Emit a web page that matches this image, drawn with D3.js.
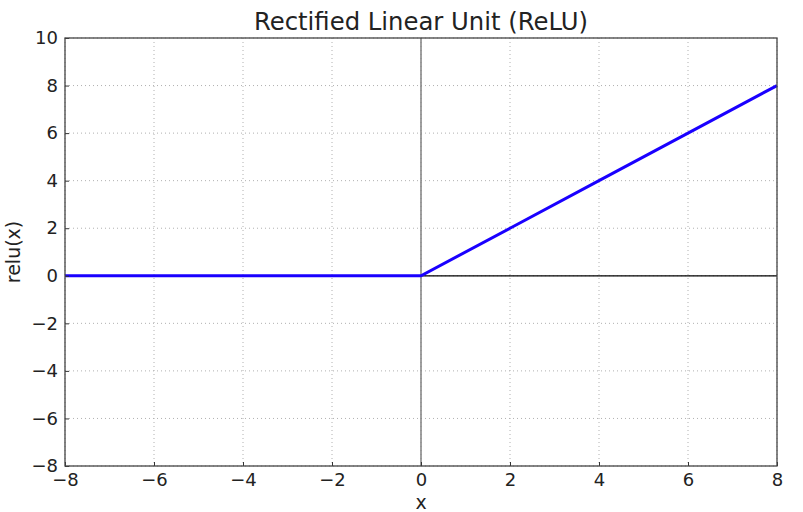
<!DOCTYPE html>
<html>
<head>
<meta charset="utf-8">
<style>
  body { margin: 0; background: #fff; }
  text { font-family: "DejaVu Sans", sans-serif; fill: #222; }
</style>
</head>
<body>
<svg width="803" height="512"></svg>
<script src="https://d3js.org/d3.v7.min.js"></script>
<script>

// data
var xValues = [-8, -6, -4, -2, 0, 2, 4, 6, 8];
var reluValues = [0, 0, 0, 0, 0, 2, 4, 6, 8];
var xTicks = [-8, -6, -4, -2, 0, 2, 4, 6, 8];
var yTicks = [-8, -6, -4, -2, 0, 2, 4, 6, 8, 10];

var svg = d3.select("svg"),
    margin = {top: 38, right: 26, bottom: 46, left: 65},
    width = 803 - margin.left - margin.right,
    height = 512 - margin.top - margin.bottom;

var x = d3.scaleLinear().domain([-8, 8]).range([0, width]);
var y = d3.scaleLinear().domain([-8, 10]).range([height, 0]);

var g = svg.append("g")
    .attr("transform", "translate(" + margin.left + "," + margin.top + ")");

// grid
g.selectAll(".vgrid")
  .data(xTicks)
  .enter().append("line")
    .attr("x1", function(d) { return x(d); })
    .attr("x2", function(d) { return x(d); })
    .attr("y1", 0).attr("y2", height)
    .attr("stroke", "#b0b0b0")
    .attr("stroke-dasharray", "1,3");

g.selectAll(".hgrid")
  .data(yTicks)
  .enter().append("line")
    .attr("y1", function(d) { return y(d); })
    .attr("y2", function(d) { return y(d); })
    .attr("x1", 0).attr("x2", width)
    .attr("stroke", "#b0b0b0")
    .attr("stroke-dasharray", "1,3");

// zero lines
g.append("line")
    .attr("x1", x(0)).attr("x2", x(0))
    .attr("y1", 0).attr("y2", height)
    .attr("stroke", "#808080").attr("stroke-width", 1.5);

g.append("line")
    .attr("x1", 0).attr("x2", width)
    .attr("y1", y(0)).attr("y2", y(0))
    .attr("stroke", "#000").attr("stroke-width", 1.2);

// relu line
var line = d3.line()
    .x(function(d, i) { return x(xValues[i]); })
    .y(function(d) { return y(d); });

g.append("path")
    .datum(reluValues)
    .attr("fill", "none")
    .attr("stroke", "#1a00ff")
    .attr("stroke-width", 3)
    .attr("d", line);

var fmt = function(d) { return d < 0 ? "\u2212" + Math.abs(d) : d; };

// axes
var xAxis = g.append("g")
    .attr("transform", "translate(0," + height + ")")
    .call(d3.axisBottom(x).tickValues(xTicks).tickSizeInner(-4).tickSizeOuter(0).tickPadding(7)
      .tickFormat(fmt));

var yAxis = g.append("g")
    .call(d3.axisLeft(y).tickValues(yTicks).tickSizeInner(-4).tickSizeOuter(0).tickPadding(7)
      .tickFormat(fmt));

[xAxis, yAxis].forEach(function(a) {
  a.select(".domain").remove();
  a.selectAll(".tick line").attr("stroke", "#333");
  a.selectAll(".tick text").attr("font-size", 18).attr("fill", "#222")
    .attr("font-family", "DejaVu Sans, sans-serif");
});

// frame
g.append("rect")
    .attr("width", width).attr("height", height)
    .attr("fill", "none")
    .attr("stroke", "#444").attr("stroke-width", 1.3);

// labels
svg.append("text")
    .attr("x", margin.left + width / 2).attr("y", 30)
    .attr("text-anchor", "middle")
    .attr("font-size", 24.3)
    .text("Rectified Linear Unit (ReLU)");

svg.append("text")
    .attr("x", margin.left + width / 2).attr("y", 509)
    .attr("text-anchor", "middle")
    .attr("font-size", 19)
    .text("x");

svg.append("text")
    .attr("transform", "translate(20," + (margin.top + height / 2) + ") rotate(-90)")
    .attr("text-anchor", "middle")
    .attr("font-size", 19)
    .text("relu(x)");

</script>
</body>
</html>
